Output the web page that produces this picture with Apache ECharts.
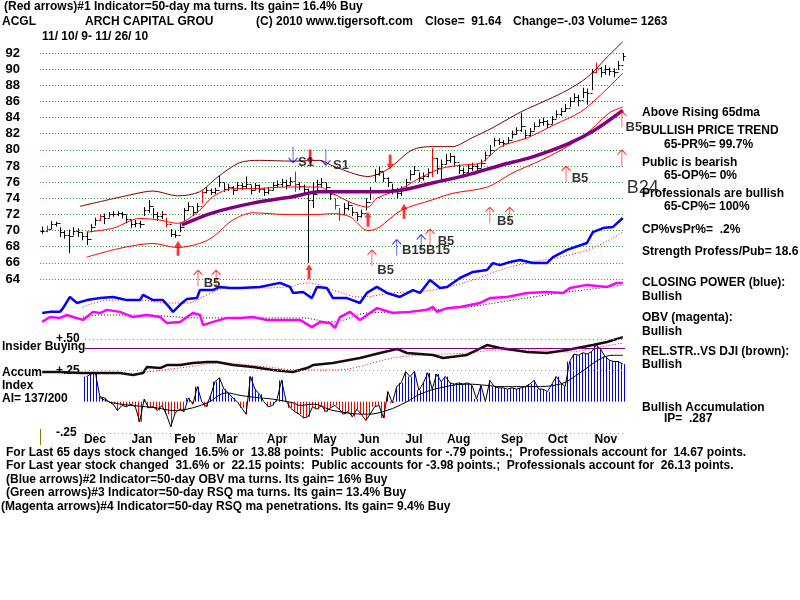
<!DOCTYPE html>
<html>
<head>
<meta charset="utf-8">
<title>ACGL - Arch Capital</title>
<script src="https://cdn.jsdelivr.net/npm/echarts@6/dist/echarts.min.js"></script>
<style>
  html, body { margin: 0; padding: 0; background: #fff; }
  #chart { width: 800px; height: 600px; }
</style>
</head>
<body>
<div id="chart"></div>
<script>
// ---- data (x = trading day index, 0 = 11/10/09) ----
// closes, highs, lows sampled every 2nd trading day
const closes = [70.0,70.2,70.8,70.9,69.8,69.5,69.3,70.0,69.8,69.3,
  69.0,70.5,71.3,71.8,71.5,72.0,72.1,72.2,72.0,71.4,
  70.8,71.0,70.8,72.5,73.0,72.0,71.8,72.0,70.8,69.6,
  69.5,70.5,72.5,73.0,72.3,73.0,74.8,75.0,74.8,75.0,
  76.0,75.2,75.4,75.0,75.6,75.5,75.8,75.0,75.6,75.2,
  74.8,75.0,75.6,75.8,76.0,75.6,76.2,75.8,75.5,75.2,
  73.8,74.5,75.8,76.0,75.4,74.5,73.2,72.0,72.8,73.2,
  72.3,71.8,72.2,73.5,75.0,77.0,77.4,76.5,76.0,75.2,
  74.6,75.0,76.0,77.0,77.5,76.5,76.8,77.2,79.0,77.8,
  78.2,78.8,79.2,78.5,77.5,77.2,77.8,78.0,77.8,78.4,
  79.4,80.0,81.2,81.0,80.8,81.2,82.0,82.4,83.0,81.8,
  82.3,83.0,83.4,83.6,83.2,83.8,84.5,84.8,85.2,86.0,
  86.5,86.2,87.2,87.0,89.6,90.2,89.6,90.0,89.8,89.6,
  90.5,91.6];
const highs = [70.5,70.6,71.2,71.1,70.4,70.0,70.1,70.4,70.3,69.8,
  69.9,70.8,71.6,72.0,72.1,72.3,72.4,72.4,72.3,71.9,
  71.3,71.3,71.2,72.9,73.8,72.8,72.3,72.4,71.6,70.2,
  70.0,70.9,72.8,73.5,72.9,73.4,75.0,75.4,75.2,75.3,
  76.8,75.9,75.8,75.5,76.0,75.9,76.7,75.6,75.9,75.7,
  75.3,75.4,76.0,76.2,76.4,76.3,76.6,77.3,76.0,75.7,
  75.2,76.0,76.3,76.5,75.9,75.0,74.0,72.8,73.4,73.6,
  72.9,72.2,72.6,74.0,75.4,77.6,77.9,77.2,76.6,75.8,
  75.3,75.5,76.4,77.5,78.0,77.2,77.2,77.7,80.2,79.0,
  78.8,79.5,79.6,79.3,78.2,77.8,78.2,78.4,78.3,78.8,
  79.8,80.6,81.5,81.4,81.2,81.6,82.4,82.8,84.6,82.5,
  82.7,83.4,83.8,84.0,83.7,84.2,84.9,85.2,85.7,86.5,
  87.0,86.8,87.7,87.6,90.0,90.8,90.3,90.5,90.2,90.1,
  91.0,92.0];
const lows = [69.6,69.8,70.2,70.5,69.2,69.0,67.2,69.4,69.2,68.8,
  68.2,69.8,70.6,71.2,70.8,71.6,71.7,71.8,71.5,70.9,
  70.3,70.4,70.3,71.8,72.2,71.5,71.2,71.4,70.4,69.2,
  69.1,69.8,71.2,72.4,71.8,72.2,73.4,74.6,74.4,74.5,
  75.4,74.8,74.9,74.4,75.0,75.0,75.2,74.5,75.0,74.7,
  74.3,74.5,75.0,75.3,75.4,75.1,75.6,74.8,75.0,74.6,
  66.0,72.8,74.9,75.3,74.8,73.8,72.6,71.2,72.0,72.5,
  71.8,71.2,71.6,72.5,73.8,76.0,76.8,76.0,75.4,74.5,
  74.0,74.3,75.2,76.2,76.9,76.0,76.2,76.6,76.6,77.0,
  76.0,78.2,78.4,78.0,77.0,76.6,77.2,77.4,77.3,77.8,
  78.6,79.4,80.4,80.6,80.4,80.8,81.4,81.9,82.2,81.3,
  81.7,82.4,82.9,83.0,82.7,83.2,83.9,84.2,84.7,85.3,
  85.9,85.4,86.4,85.6,87.4,89.5,89.0,89.3,89.2,89.0,
  89.9,91.0];
const redBars = [1, 13, 28, 36, 57, 66, 67, 88, 125];

const upperBand = [[17,73.0],[41,74.5],[50,74.9],[61,74.3],[71,74.8],[79,76.6],[89,78.4],[98,78.7],
  [113,78.6],[125,78.7],[132,77.9],[147,76.7],[156,77.6],[167,80.0],[176,80.4],[185,80.4],
  [194,81.5],[203,82.7],[216,84.7],[228,86.2],[237,87.4],[246,89.0],[255,91.5],[262,93.4]];
const midBand = [[20,69.8],[32,70.3],[44,71.5],[53,71.3],[61,70.9],[71,72.5],[77,74.2],[86,75.2],
  [95,75.2],[110,75.4],[125,75.4],[131,74.6],[140,73.4],[147,72.9],[151,74.0],[162,75.2],
  [171,76.6],[180,77.7],[189,78.1],[198,78.4],[207,80.4],[219,81.5],[231,83.1],[243,84.7],
  [252,86.8],[262,89.5]];
const lowerBand = [[20,66.7],[35,67.8],[50,68.4],[61,67.9],[71,68.4],[77,69.2],[86,71.3],[95,72.2],
  [110,72.0],[125,72.0],[131,72.1],[139,71.7],[147,70.0],[152,70.4],[162,72.5],[176,73.8],
  [185,74.6],[201,75.4],[212,77.1],[225,78.7],[237,80.4],[246,82.1],[256,84.6],[262,85.3]];
const ma65 = [[63,70.7],[77,72.2],[95,73.4],[113,74.2],[125,74.8],[131,74.8],[147,74.8],[162,75.0],
  [176,75.9],[192,76.9],[207,78.1],[221,79.1],[237,80.7],[249,82.4],[262,84.9]];

// closing power (blue) and OBV (magenta), in a 0-100 panel level
const closingPower = [[0,9.4],[3.5,9.8],[8,9.8],[9.4,11.1],[12.5,15.0],[15.7,12.9],[20.2,13.9],[26.1,14.6],
  [32,15.0],[38.3,13.9],[44.1,13.9],[45.5,15.7],[50,13.9],[54.5,13.9],[57.7,11.1],[59,9.8],
  [63.1,12.9],[65.3,14.3],[69.8,14.6],[71.2,17.4],[77,17.4],[80.2,18.5],[84.7,18.1],[89.3,18.1],
  [98.3,18.5],[107.3,19.9],[111.8,18.5],[113.2,16.4],[117.7,16.7],[121.7,14.6],[124,18.5],
  [128.5,18.1],[131.2,14.6],[137.5,14.6],[143.4,12.9],[146.5,16.4],[151,18.5],[155.6,16.4],
  [161.4,15.0],[167.3,17.4],[170.5,16.4],[175,20.9],[179.5,18.1],[182.7,18.5],[188.5,21.6],
  [194.4,23.7],[200.7,24.4],[203.4,26.8],[206.6,26.1],[211.1,27.2],[215.6,27.9],[221.5,26.8],
  [227.8,26.8],[230.5,28.9],[236.8,31.4],[245.8,33.8],[248.5,37.6],[253.1,39.0],[257.6,39.4],[262,42.5]];
const cpAvg = [[18.4,11.5],[30.6,13.9],[44.1,13.9],[56.3,12.9],[65.3,12.9],[74.4,15.7],[83.4,18.1],
  [95.1,18.1],[110.5,18.5],[119.5,19.9],[131.2,17.4],[143.4,15.0],[158.3,16.4],[176.3,17.4],
  [194.4,20.9],[206.6,24.4],[221.5,27.2],[233.7,28.9],[248.5,32.1],[262,37.6]];
const obv = [[0,6.3],[3.5,8.0],[8,7.7],[11.2,8.7],[13.9,8.0],[18.4,7.0],[22.9,9.8],[26.1,9.4],
  [29.2,10.5],[35.1,9.8],[41,8.0],[47.3,8.7],[53.2,8.0],[56.3,5.9],[62.2,6.3],[65.3,8.0],
  [68,9.4],[71.2,8.7],[72.6,5.2],[77.1,6.3],[83.4,7.7],[89.3,7.7],[95.1,8.0],[101.4,7.0],
  [110.5,7.0],[116.3,7.0],[121.7,4.5],[125.4,6.3],[129.9,5.9],[132.1,4.2],[134.4,8.0],
  [138.9,9.8],[143.4,7.0],[151.1,11.1],[158.3,9.4],[166,9.8],[173.6,10.5],[176.3,11.5],
  [178.2,9.8],[182.7,11.1],[188.5,11.5],[197.6,12.9],[202,14.6],[209.7,15.0],[218.8,16.4],
  [227.8,16.7],[235,16.4],[238.2,18.1],[245.8,19.2],[254.9,18.5],[259.4,19.9],[262,19.9]];
const obvAvg = [[18.4,8.0],[26.1,8.7],[44.1,8.7],[71.2,7.7],[116.3,7.7],[131.2,6.3],[146.5,9.4],
  [161.4,9.8],[191.7,11.5],[206.6,13.2],[221.5,15.0],[236.8,16.7],[251.7,18.1],[262,19.2]];

// relative strength vs DJI, 0-100 panel level
const relStr = [[0,64.9],[8,64.9],[17.1,63.8],[26.1,63.8],[35.1,63.8],[41,61.7],[45.5,63.8],[47.3,70.2],
  [53.2,69.1],[56.3,72.3],[62.2,72.3],[68,74.5],[74.4,75.5],[78.9,75.5],[86.1,72.3],[95.1,70.2],
  [104.1,67.0],[113.2,64.9],[116.3,67.0],[119.5,69.1],[122.2,72.3],[131.2,74.5],[143.4,79.8],
  [152.4,85.1],[160.1,89.4],[164.6,85.1],[176.3,83.0],[180.9,79.8],[191.7,83.0],[200.7,93.6],
  [206.6,90.4],[218.8,86.2],[227.8,85.1],[236.8,88.3],[248.5,93.6],[254.9,96.8],[262,102]];
const relStrAvg = [[47.3,64.9],[65.3,70.2],[80.2,74.5],[101.4,70.2],[116.3,67.0],[131.2,67.0],
  [161.4,80.9],[191.7,85.1],[206.6,88.3],[221.5,88.3],[236.8,86.2],[251.7,91.5],[262,95.7]];

// accumulation index, every 2nd day from day 20
const accumStart = 20;
const accum = [0.20,0.22,0.23,0.04,0.03,0.0,-0.02,-0.07,-0.03,-0.04,
  -0.02,-0.04,-0.16,0.02,-0.05,-0.04,-0.07,-0.03,-0.1,-0.2,
  -0.09,-0.06,-0.08,0.03,-0.02,0.12,0.0,-0.04,0.05,0.16,
  0.19,0.1,0.07,0.03,0.0,-0.05,-0.1,0.2,0.1,0.06,
  0.0,-0.04,-0.03,0.02,0.17,0.01,-0.05,-0.08,-0.1,-0.13,
  -0.12,-0.04,-0.06,-0.03,-0.08,-0.05,-0.03,-0.06,-0.1,-0.08,
  -0.12,-0.06,-0.1,-0.15,-0.1,-0.04,-0.03,-0.13,0.08,-0.01,
  0.12,0.15,0.24,0.2,0.24,0.09,0.15,0.23,0.1,0.22,
  0.16,0.2,0.15,0.14,0.15,0.14,0.15,0.13,0.02,0.13,
  0.0,0.17,0.12,0.11,0.11,0.1,0.11,0.1,0.11,0.12,
  0.14,0.17,0.1,0.1,0.08,0.14,0.2,0.15,0.12,0.32,
  0.38,0.37,0.39,0.38,0.4,0.45,0.42,0.36,0.33,0.32,
  0.32,0.3];
const accumAvg = [[26.1,0.03],[32,-0.01],[51.8,-0.05],[59,-0.07],[65.3,-0.06],[74.4,-0.01],[83.4,0.07],
  [89.3,0.05],[98.3,0.03],[104.1,0.02],[113.2,-0.01],[116.3,-0.03],[122.2,-0.02],[131.2,-0.07],
  [146.5,-0.1],[155.6,-0.07],[164.6,0.0],[170.5,0.06],[179.5,0.11],[191.7,0.14],[200.7,0.13],
  [206.6,0.12],[221.5,0.12],[233.7,0.14],[242.7,0.23],[251.7,0.34],[257.6,0.37],[262,0.37]];

// signal arrows [day, price]
const thickRedUp = [[61.3,67.8],[120.4,64.9],[147,71.4],[163.3,72.4]];
const thickRedDown = [[120.9,79.1],[157,78.5]];
const thinRedUp = [[70.3,64.1],[78.5,64.1],[148.8,66.6],[175,69.2],[202,71.9],[211,71.9],
  [236.4,77.0],[261.6,83.8],[261.6,79.0]];
const thinBlueUp = [[160,67.9],[171,68.5]];
const thinBlueDown = [[113.2,79.4],[128,79.1]];
const signalLabels = [[76.6,63.5,'B5'],[119,78.4,'S1'],[134.8,78.1,'S1'],[155,65.1,'B5'],
  [167.8,67.6,'B15'],[178.6,67.6,'B15'],[182.2,68.6,'B5'],[209,71.1,'B5'],[242.7,76.5,'B5'],
  [267,82.8,'B5']];
const bigLabel = [[271,75.3,'B24']];

const monthNames = ['Dec','Jan','Feb','Mar','Apr','May','Jun','Jul','Aug','Sep','Oct','Nov'];
const monthPos = [23.8,45,64.4,83.4,106,127.6,147.4,167.7,187.9,212,232.7,254.4];

// ---- build ----
const FONT = '"Liberation Sans",Arial,sans-serif';

const barData = closes.map((c, k) => [k * 2, c, highs[k], lows[k],
  k > 0 ? closes[k - 1] : c, redBars.indexOf(k) >= 0 ? 1 : 0]);
const accumData = accum.map((v, k) => [accumStart + k * 2, v]);

function renderBar(params, api) {
  const d = api.value(0);
  const hi = api.coord([d, api.value(2)]);
  const lo = api.coord([d, api.value(3)]);
  const cl = api.coord([d, api.value(1)]);
  const op = api.coord([d, api.value(4)]);
  const col = api.value(5) ? '#ff0000' : '#000000';
  const x = Math.round(hi[0]) + 0.5;
  return {
    type: 'group',
    children: [
      { type: 'line', shape: { x1: x, y1: hi[1], x2: x, y2: lo[1] }, style: { stroke: col, lineWidth: 1 } },
      { type: 'line', shape: { x1: x - 2, y1: Math.round(op[1]) + 0.5, x2: x, y2: Math.round(op[1]) + 0.5 }, style: { stroke: col, lineWidth: 1 } },
      { type: 'line', shape: { x1: x, y1: Math.round(cl[1]) + 0.5, x2: x + 2, y2: Math.round(cl[1]) + 0.5 }, style: { stroke: col, lineWidth: 1 } }
    ]
  };
}

// vertical hatching like the original histogram
function hatch(color) {
  const c = document.createElement('canvas');
  c.width = 3; c.height = 1;
  const g = c.getContext('2d');
  g.fillStyle = color;
  g.fillRect(0, 0, 1, 1);
  return { image: c, repeat: 'repeat' };
}
const blueHatch = hatch('#0000ff');
const redHatch = hatch('#ff0000');

function renderAccum(params, api) {
  const d = api.value(0);
  const v = api.value(1);
  const a = api.coord([d - 1, v]);
  const b = api.coord([d + 1, 0]);
  return {
    type: 'rect',
    shape: { x: Math.round(a[0]), y: Math.min(a[1], b[1]), width: Math.round(b[0]) - Math.round(a[0]), height: Math.abs(b[1] - a[1]) },
    style: { fill: v >= 0 ? blueHatch : redHatch }
  };
}

const thinArrow = 'path://M5,0 L0,6 M5,0 L10,6 M5,0 L5,20';
const thickArrow = 'path://M5,0 L10,7 L7,7 L7,18 L3,18 L3,7 L0,7 Z';

function arrows(data, color, thick, down) {
  return {
    type: 'scatter', xAxisIndex: 0, yAxisIndex: 0, data: data, clip: false, z: 6,
    symbol: thick ? thickArrow : thinArrow,
    symbolSize: thick ? [7, 15] : [9, 16],
    symbolRotate: down ? 180 : 0,
    itemStyle: thick ? { color: color } : { color: 'none', borderColor: color, borderWidth: 1 },
    silent: true
  };
}

function line(data, xi, color, width, extra) {
  return Object.assign({
    type: 'line', xAxisIndex: xi, yAxisIndex: xi, data: data, showSymbol: false, symbol: 'none',
    smooth: 0.3, clip: false, silent: true,
    lineStyle: { color: color, width: width }
  }, extra || {});
}

function txt(x, y, s, font) {
  return { type: 'text', x: x, y: y, silent: true,
    style: { text: s, fill: '#000', font: font || ('bold 12px ' + FONT), verticalAlign: 'middle' } };
}

const graphics = [
  txt(4, 7, '(Red arrows)#1 Indicator=50-day ma turns. Its gain= 16.4% Buy'),
  txt(2, 22, 'ACGL'),
  txt(85, 22, 'ARCH CAPITAL GROU'),
  txt(256, 22, '(C) 2010 www.tigersoft.com'),
  txt(425, 22, 'Close=  91.64'),
  txt(513, 22, 'Change=-.03 Volume= 1263'),
  txt(42, 37, '11/ 10/ 9- 11/ 26/ 10'),
  txt(642, 113, 'Above Rising 65dma'),
  txt(642, 131, 'BULLISH PRICE TREND'),
  txt(664, 145, '65-PR%= 99.7%'),
  txt(642, 163, 'Public is bearish'),
  txt(664, 176, '65-OP%= 0%'),
  txt(642, 194, 'Professionals are bullish'),
  txt(664, 207, '65-CP%= 100%'),
  txt(642, 230, 'CP%vsPr%=  .2%'),
  txt(642, 252, 'Strength Profess/Pub= 18.6'),
  txt(642, 283, 'CLOSING POWER (blue):'),
  txt(642, 297, 'Bullish'),
  txt(642, 318, 'OBV (magenta):'),
  txt(642, 332, 'Bullish'),
  txt(642, 352, 'REL.STR..VS DJI (brown):'),
  txt(642, 365, 'Bullish'),
  txt(642, 408, 'Bullish Accumulation'),
  txt(664, 419, 'IP=  .287'),
  txt(2, 347, 'Insider Buying'),
  txt(2, 373, 'Accum'),
  txt(2, 386, 'Index'),
  txt(2, 399, 'AI= 137/200'),
  txt(6, 453, 'For Last 65 days stock changed  16.5% or  13.88 points:  Public accounts for -.79 points.;  Professionals account for  14.67 points.'),
  txt(6, 466, 'For Last year stock changed  31.6% or  22.15 points:  Public accounts for -3.98 points.;  Professionals account for  26.13 points.'),
  txt(6, 480, '(Blue arrows)#2 Indicator=50-day OBV ma turns. Its gain= 16% Buy'),
  txt(6, 493, '(Green arrows)#3 Indicator=50-day RSQ ma turns. Its gain= 13.4% Buy'),
  txt(1, 507, '(Magenta arrows)#4 Indicator=50-day RSQ ma penetrations. Its gain= 9.4% Buy'),
  { type: 'line', silent: true, shape: { x1: 40.5, y1: 429, x2: 40.5, y2: 445 }, style: { stroke: '#808000', lineWidth: 1 } }
];

const hidden = (g, min, max) => ({ type: 'value', gridIndex: g, min: min, max: max, show: false });

const option = {
  animation: false,
  backgroundColor: '#ffffff',
  grid: [
    { left: 40, top: 53, width: 585, height: 226 },
    { left: 40, top: 53, width: 585, height: 287 },
    { left: 40, top: 339, width: 585, height: 94 },
    { left: 40, top: 339, width: 585, height: 94 }
  ],
  xAxis: [
    hidden(0, -1, 263),
    hidden(1, -1, 263),
    {
      type: 'value', gridIndex: 2, min: -1, max: 263,
      axisLine: { show: false }, axisTick: { show: false }, splitLine: { show: false },
      axisLabel: {
        customValues: monthPos, margin: 1, color: '#000', fontWeight: 'bold', fontSize: 12,
        fontFamily: FONT,
        formatter: function (v) {
          let best = 0;
          monthPos.forEach((p, i) => { if (Math.abs(p - v) < Math.abs(monthPos[best] - v)) best = i; });
          return monthNames[best];
        }
      }
    },
    hidden(3, -1, 263)
  ],
  yAxis: [
    {
      type: 'value', gridIndex: 0, min: 64, max: 92, interval: 2,
      axisLine: { show: false }, axisTick: { show: false },
      axisLabel: { margin: 20, color: '#000', fontWeight: 'bold', fontSize: 13, fontFamily: FONT },
      splitLine: { lineStyle: { color: '#2f9a3a', width: 1, type: [1, 2] } }
    },
    hidden(1, 0, 100),
    {
      type: 'value', gridIndex: 2, min: -0.25, max: 0.5, interval: 0.25,
      axisLine: { show: false }, axisTick: { show: false }, splitLine: { show: false },
      axisLabel: {
        inside: true, margin: 16, customValues: [0.5, 0.25, -0.25],
        showMinLabel: true, showMaxLabel: true,
        color: '#000', fontWeight: 'bold', fontSize: 12, fontFamily: FONT,
        formatter: v => (v > 0.4 ? '+.50' : v > 0 ? '+.25' : '-.25')
      }
    },
    hidden(3, 0, 100)
  ],
  series: [
    line(upperBand, 0, '#800000', 1),
    line(midBand, 0, '#ff0000', 1),
    line(lowerBand, 0, '#ff0000', 1),
    {
      type: 'custom', xAxisIndex: 0, yAxisIndex: 0, data: barData, renderItem: renderBar,
      clip: false, silent: true, z: 3
    },
    line(ma65, 0, '#800080', 3.5, { z: 4 }),
    arrows(thickRedUp, '#ff0000', true, false),
    arrows(thickRedDown, '#ff0000', true, true),
    arrows(thinRedUp, '#ff0000', false, false),
    arrows(thinBlueUp, '#0000ff', false, false),
    arrows(thinBlueDown, '#0000ff', false, true),
    {
      type: 'scatter', xAxisIndex: 0, yAxisIndex: 0, data: signalLabels, symbolSize: 1,
      itemStyle: { color: 'none' }, clip: false, silent: true, z: 7,
      label: { show: true, position: 'inside', formatter: p => p.value[2], color: '#000',
        textBorderWidth: 0, fontWeight: 'bold', fontSize: 13, fontFamily: FONT }
    },
    {
      type: 'scatter', xAxisIndex: 0, yAxisIndex: 0, data: bigLabel, symbolSize: 1,
      itemStyle: { color: 'none' }, clip: false, silent: true, z: 7,
      label: { show: true, position: 'inside', formatter: p => p.value[2], color: '#000',
        textBorderWidth: 0, fontSize: 18, fontFamily: FONT }
    },
    line(cpAvg, 1, '#ff0000', 1, { smooth: 0.4, lineStyle: { color: '#ff0000', width: 1, type: [1, 2] } }),
    line(closingPower, 1, '#0000ff', 2.5, { smooth: false }),
    line(obvAvg, 1, '#000000', 1, { smooth: 0.4, lineStyle: { color: '#000000', width: 1, type: [1, 2] } }),
    line(obv, 1, '#ff00ff', 2.5, { smooth: false }),
    {
      type: 'custom', xAxisIndex: 2, yAxisIndex: 2, data: accumData, renderItem: renderAccum,
      clip: false, silent: true,
      markLine: {
        symbol: 'none', silent: true, label: { show: false }, animation: false,
        data: [
          [{ coord: [19.3, 0.5], lineStyle: { color: '#e070c0', width: 1, type: [1, 3] } }, { coord: [263, 0.5] }],
          [{ coord: [19.3, 0.25], lineStyle: { color: '#e070c0', width: 1, type: [1, 3] } }, { coord: [263, 0.25] }],
          [{ coord: [18, -0.25], lineStyle: { color: '#e070c0', width: 1, type: [1, 3] } }, { coord: [263, -0.25] }],
          [{ coord: [19.3, 0.428], lineStyle: { color: '#800080', width: 1, type: 'solid' } }, { coord: [263, 0.428] }]
        ]
      }
    },
    line(accumData, 2, '#000000', 1, { smooth: false }),
    line(accumAvg, 2, '#000000', 1, { smooth: 0.4 }),
    line(relStrAvg, 3, '#ff0000', 1, { smooth: 0.4, lineStyle: { color: '#ff0000', width: 1, type: [1, 2] } }),
    line(relStr, 3, '#1a0a0a', 2.5, { smooth: false })
  ],
  graphic: graphics
};

const chart = echarts.init(document.getElementById('chart'), null, { renderer: 'canvas' });
chart.setOption(option);
window.addEventListener('resize', function () { chart.resize(); });
</script>
</body>
</html>
